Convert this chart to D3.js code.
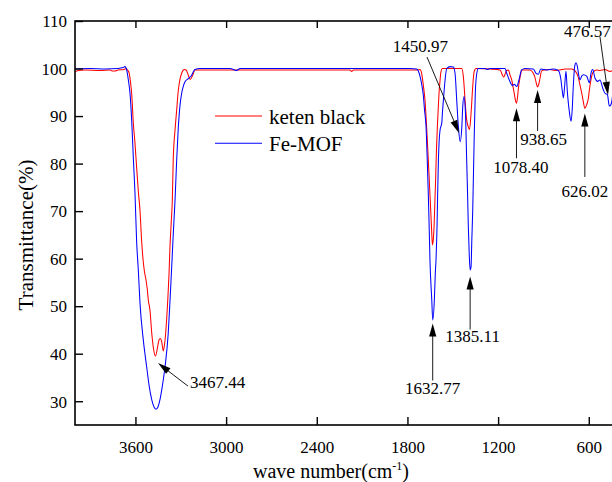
<!DOCTYPE html>
<html>
<head>
<meta charset="utf-8">
<script src="https://cdn.jsdelivr.net/npm/d3@7"></script>
<style>
  html, body { margin: 0; padding: 0; background: #fff; }
  svg { display: block; }
  text { font-family: "Liberation Serif", "Times New Roman", serif; fill: #000; }
</style>
</head>
<body>
<svg id="chart" width="612" height="482"></svg>
<script>
// FTIR spectra: wavenumber (cm-1) and transmittance (%)
const seriesNames = ["keten black", "Fe-MOF"];

const waveRed = [4000, 3980, 3934, 3835, 3768, 3755, 3735, 3715, 3676, 3662, 3653, 3641, 3633, 3625, 3614, 3603,
  3592, 3581, 3570, 3559, 3548, 3540, 3530, 3521, 3515, 3504, 3492, 3482, 3467.44, 3453, 3444, 3436, 3426, 3416,
  3408, 3400, 3393, 3386, 3378, 3371, 3363, 3356, 3350, 3338, 3327, 3318, 3310, 3302, 3294, 3285, 3275, 3265,
  3250, 3237, 3221, 3206, 3173, 2776, 2511, 2180, 2169, 2157, 1783, 1730, 1717, 1706, 1695, 1684, 1672, 1662,
  1654, 1646, 1640, 1635, 1629, 1624, 1618, 1613, 1608, 1602, 1596, 1591, 1584, 1580, 1569, 1518, 1441, 1430,
  1424, 1419, 1408, 1399, 1389, 1379, 1368, 1359, 1346, 1254, 1187, 1174, 1164, 1154, 1144, 1132, 1121, 1110,
  1101, 1095, 1087, 1078.40, 1070, 1065, 1060, 1052, 1044, 989, 967, 956, 947, 938.65, 931, 923, 912, 890, 857,
  824, 791, 757, 713, 691, 680, 668, 658, 647, 636, 626.02, 615, 603, 596, 588, 579, 570, 548, 526, 493, 459,
  426, 400];
const transRed = [99.3, 99.6, 99.7, 99.6, 99.7, 99.5, 99.5, 99.7, 99.8, 100.0, 99.7, 99.0, 97.2, 94.8, 88.5, 84.3,
  79.1, 74.2, 70.2, 63.7, 59.3, 57.2, 55.5, 53.4, 51.3, 49.2, 44.3, 41.4, 39.5, 41.5, 42.9, 43.2, 42.5, 40.6,
  41.8, 44.3, 47.5, 51.3, 56.6, 62.9, 67.7, 72.3, 80.8, 87.1, 91.3, 94.9, 96.9, 98.2, 99.0, 99.6, 99.8, 99.7,
  98.6, 97.7, 98.6, 99.7, 99.7, 99.7, 99.7, 99.7, 99.4, 99.7, 99.7, 99.7, 99.8, 99.0, 96.5, 93.4, 87.1, 80.8,
  75.5, 70.2, 66.0, 62.9, 64.0, 66.7, 72.3, 77.2, 82.9, 87.8, 91.7, 94.8, 97.6, 99.0, 100.0, 100.0, 100.0, 98.3,
  95.9, 93.4, 89.2, 87.9, 87.2, 90.6, 96.2, 99.3, 100.0, 99.9, 99.7, 98.8, 98.2, 98.8, 99.6, 99.7, 98.6, 97.6,
  96.1, 95.1, 93.6, 92.7, 94.4, 96.1, 97.2, 98.6, 99.7, 99.7, 99.0, 98.1, 96.9, 96.1, 96.7, 97.9, 99.5, 99.7, 99.8,
  99.6, 99.7, 99.9, 99.9, 99.5, 99.0, 98.0, 96.5, 94.9, 93.0, 91.6, 92.3, 93.7, 95.5, 97.2, 98.6, 99.3, 99.7, 99.6, 99.8, 99.4,
  99.7, 99.7];

const waveBlue = [4000, 3900, 3800, 3715, 3682, 3669, 3658, 3647, 3636, 3625, 3614, 3603, 3592, 3581, 3570, 3548,
  3526, 3510, 3492, 3477, 3464, 3451, 3438, 3421, 3404, 3383, 3371, 3360, 3350, 3338, 3327, 3316, 3305, 3294,
  3283, 3272, 3250, 3228, 3217, 3206, 3173, 2974, 2930, 2908, 2511, 2114, 1783, 1739, 1728, 1717, 1706, 1695,
  1687, 1677, 1669, 1662, 1656, 1651, 1639, 1632.77, 1622, 1616, 1611, 1604, 1600, 1595, 1591, 1584, 1573, 1568,
  1562, 1551, 1540, 1518, 1496, 1485, 1474, 1463, 1450.97, 1440, 1434, 1426, 1417, 1408, 1402, 1397, 1391,
  1385.11, 1379, 1374, 1368, 1364, 1359, 1351, 1341, 1331, 1287, 1271, 1254, 1154, 1143, 1121, 1106, 1093, 1077,
  1062, 1044, 1022, 967, 949, 934, 918, 878, 837, 802, 786, 775, 768, 759, 751, 742, 729, 717, 709, 702, 693,
  684, 676, 667, 658, 647, 636, 614, 596, 585, 574, 559, 541, 526, 508, 493, 476.57, 464, 455, 446, 433, 420];
const transBlue = [99.9, 100.0, 99.9, 100.0, 100.2, 100.4, 99.7, 97.6, 94.8, 89.2, 81.2, 73.8, 63.5, 57.6, 50.7, 42.9,
  37.3, 33.4, 30.3, 28.8, 28.3, 28.8, 30.3, 33.4, 37.3, 44.3, 51.3, 58.3, 65.0, 72.3, 80.8, 87.8, 92.3, 94.8,
  96.3, 97.2, 97.9, 98.6, 99.3, 99.8, 100.0, 100.0, 99.6, 100.0, 100.0, 100.0, 100.0, 99.9, 99.5, 98.4, 96.7, 94.4,
  91.3, 87.8, 80.8, 73.7, 66.4, 59.7, 51.3, 47.1, 51.3, 56.6, 59.7, 67.1, 73.7, 80.8, 84.3, 87.1, 88.5, 90.9,
  93.4, 97.6, 100.0, 100.4, 100.3, 99.0, 93.4, 87.8, 84.6, 87.8, 92.0, 94.1, 91.3, 80.8, 73.4, 66.7, 60.8,
  57.6, 58.3, 63.9, 70.2, 76.5, 84.3, 94.8, 99.0, 100.0, 100.0, 99.8, 100.0, 100.0, 99.0, 97.2, 96.4, 96.7, 96.2,
  97.6, 99.7, 100.0, 99.9, 99.0, 98.8, 99.9, 99.7, 99.9, 99.6, 98.0, 95.2, 93.8, 96.6, 99.4, 95.2, 91.0, 88.9, 91.7, 96.6, 100.5,
  101.2, 100.5, 98.7, 97.6, 98.4, 98.7, 98.4, 97.0, 99.1, 99.8, 98.0, 97.3, 97.6, 95.9, 94.8, 94.5, 92.1, 92.3, 93.4, 97.6, 99.5];

const xTicks = [3600, 3000, 2400, 1800, 1200, 600];
const yTicks = [30, 40, 50, 60, 70, 80, 90, 100, 110];

// peak annotations
const annoLabels = ["3467.44", "1632.77", "1385.11", "1450.97", "1078.40", "938.65", "626.02", "476.57"];
const annoWaves = [3467.44, 1632.77, 1385.11, 1450.97, 1078.40, 938.65, 626.02, 476.57];
const annoSeries = ["keten black", "Fe-MOF", "Fe-MOF", "Fe-MOF", "keten black", "keten black", "keten black", "Fe-MOF"];

// arrow / label placement in pixels: tip offset from the peak, tail and text relative to the tip
const annoLayout = [
  { tip: [2.5, 7], tail: [30, 23], text: [32, 25.3], anchor: "start" },
  { tip: [0, 3.5], tail: [0, 57], text: [0, 70.7], anchor: "middle" },
  { tip: [0, 6.5], tail: [0, 53], text: [2.5, 65], anchor: "middle" },
  { tip: [-1.2, -8.7], tail: [-32, -76], text: [-38.5, -81.5], anchor: "middle" },
  { tip: [0, 5], tail: [0, 50], text: [4.5, 65], anchor: "middle" },
  { tip: [0, 3], tail: [0, 41], text: [6, 55], anchor: "middle" },
  { tip: [0, 5], tail: [0, 63.5], text: [0, 84], anchor: "middle" },
  { tip: [0.6, 0.3], tail: [-8, -58], text: [-44, -58.3], anchor: "start" }
];

const svg = d3.select("#chart");
const plotLeft = 75, plotRight = 619, plotTop = 21, plotBottom = 425;

const x = d3.scaleLinear().domain([4000, 400]).range([plotLeft, plotRight]);
const y = d3.scaleLinear().domain([25, 110]).range([plotBottom, plotTop]);

const series = [
  { name: seriesNames[0], waves: waveRed, trans: transRed, color: "#ff0000" },
  { name: seriesNames[1], waves: waveBlue, trans: transBlue, color: "#0000ff" }
];

svg.append("defs").append("clipPath").attr("id", "plot-clip")
  .append("rect").attr("x", plotLeft).attr("y", plotTop)
  .attr("width", plotRight - plotLeft).attr("height", plotBottom - plotTop);

const line = d3.line()
  .x(d => x(d[0]))
  .y(d => y(d[1]))
  .curve(d3.curveMonotoneX);

const plot = svg.append("g").attr("clip-path", "url(#plot-clip)");
series.forEach(s => {
  const pts = s.waves.map((w, i) => [w, s.trans[i]]);
  plot.append("path")
    .attr("d", line(pts))
    .attr("fill", "none")
    .attr("stroke", s.color)
    .attr("stroke-width", 1.05)
    .attr("stroke-linejoin", "round");
});

// axes with inward ticks
const bottomAxis = svg.append("g").attr("transform", `translate(0,${plotBottom})`)
  .call(d3.axisBottom(x).tickValues(xTicks).tickSizeInner(-8).tickSizeOuter(0).tickPadding(16).tickFormat(d3.format("d")));
const topAxis = svg.append("g").attr("transform", `translate(0,${plotTop})`)
  .call(d3.axisTop(x).tickValues(xTicks).tickSizeInner(-7).tickSizeOuter(0).tickFormat(""));
const leftAxis = svg.append("g").attr("transform", `translate(${plotLeft},0)`)
  .call(d3.axisLeft(y).tickValues(yTicks).tickSizeInner(-8).tickSizeOuter(0).tickPadding(8).tickFormat(d3.format("d")));

[bottomAxis, topAxis, leftAxis].forEach(g => {
  g.select(".domain").remove();
  g.selectAll(".tick line").attr("stroke", "#000").attr("stroke-width", 1.4);
  g.selectAll(".tick text").attr("font-size", 17).attr("font-family", "Liberation Serif").attr("fill", "#000");
});
leftAxis.selectAll(".tick text").attr("dy", "0.34em");

// frame
svg.append("rect")
  .attr("x", plotLeft).attr("y", plotTop)
  .attr("width", plotRight - plotLeft).attr("height", plotBottom - plotTop)
  .attr("fill", "none").attr("stroke", "#000").attr("stroke-width", 1.6);

// axis titles
const xTitle = svg.append("text")
  .attr("x", 331).attr("y", 478)
  .attr("text-anchor", "middle")
  .attr("font-size", 20);
xTitle.append("tspan").text("wave number(cm");
xTitle.append("tspan").attr("font-size", 12).attr("dy", -8).text("-1");
xTitle.append("tspan").attr("dy", 8).text(")");

svg.append("text")
  .attr("transform", "translate(33,235) rotate(-90)")
  .attr("text-anchor", "middle")
  .attr("font-size", 21)
  .text("Transmittance(%)");

// legend
const legend = svg.append("g");
series.forEach((s, i) => {
  const ly = 116 + i * 27.3;
  legend.append("line")
    .attr("x1", 215).attr("x2", 262).attr("y1", ly).attr("y2", ly)
    .attr("stroke", s.color).attr("stroke-width", 1.05);
  legend.append("text")
    .attr("x", 269).attr("y", ly + 7.6)
    .attr("font-size", 21)
    .text(s.name);
});

// peak annotations with arrows
const annoG = svg.append("g");
annoLabels.forEach((label, i) => {
  const s = series.find(d => d.name === annoSeries[i]);
  const idx = s.waves.indexOf(annoWaves[i]);
  const px = x(annoWaves[i]);
  const py = y(s.trans[idx]);
  const L = annoLayout[i];
  const tx = px + L.tip[0], ty = py + L.tip[1];
  const sx = tx + L.tail[0], sy = ty + L.tail[1];
  const len = Math.hypot(sx - tx, sy - ty);
  const ux = (sx - tx) / len, uy = (sy - ty) / len;
  const headLen = 13, headHalf = 3.6;
  const bx = tx + ux * headLen, by = ty + uy * headLen;
  annoG.append("line")
    .attr("x1", sx).attr("y1", sy)
    .attr("x2", tx + ux * 6).attr("y2", ty + uy * 6)
    .attr("stroke", "#000").attr("stroke-width", 0.9);
  annoG.append("path")
    .attr("d", `M${tx},${ty}L${bx - uy * headHalf},${by + ux * headHalf}L${bx + uy * headHalf},${by - ux * headHalf}Z`)
    .attr("fill", "#000");
  annoG.append("text")
    .attr("x", tx + L.text[0]).attr("y", ty + L.text[1])
    .attr("text-anchor", L.anchor)
    .attr("font-size", 17)
    .text(label);
});
</script>
</body>
</html>
